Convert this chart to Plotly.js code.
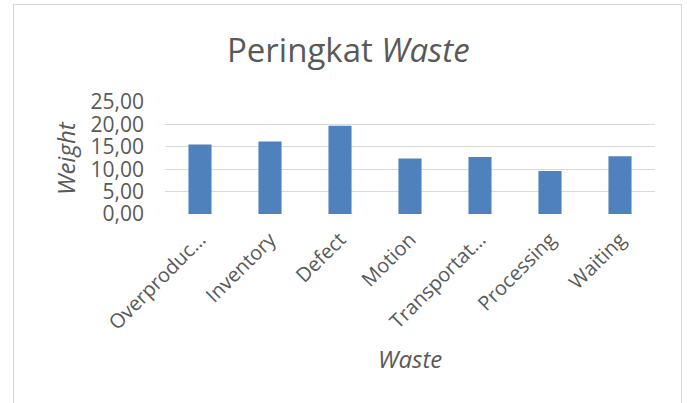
<!DOCTYPE html>
<html>
<head>
<meta charset="utf-8">
<script src="https://cdn.plot.ly/plotly-3.0.1.min.js"></script>
<style>
html,body{margin:0;padding:0;background:#fff;overflow:hidden;}
#frame{position:absolute;left:13px;top:4px;width:669px;height:420px;border:1px solid #d9d9d9;box-sizing:border-box;}
#chart{position:absolute;left:0;top:0;width:687px;height:403px;}
</style>
</head>
<body>
<div id="frame"></div>
<div id="chart"></div>
<script>
const categories = ["Overproduc\u2026", "Inventory", "Defect", "Motion", "Transportat\u2026", "Processing", "Waiting"];
const weights = [15.5, 16.2, 19.7, 12.4, 12.7, 9.6, 12.9];
const yTickValues = [0, 5, 10, 15, 20, 25];
const yTickLabels = ["0,00", "5,00", "10,00", "15,00", "20,00", "25,00"];

const textColor = "#595959";
const fontFam = "'Open Sans', 'Noto Sans', sans-serif";

const trace = {
  type: "bar",
  x: categories,
  y: weights,
  marker: {color: "#4f81bd"},
  hoverinfo: "x+y"
};

const layout = {
  width: 687,
  height: 403,
  paper_bgcolor: "rgba(0,0,0,0)",
  plot_bgcolor: "rgba(0,0,0,0)",
  margin: {l: 165, r: 32, t: 102, b: 189},
  bargap: 0.67,
  showlegend: false,
  font: {family: fontFam, color: textColor, size: 20},
  title: {
    text: "Peringkat <i>Waste</i>",
    font: {family: fontFam, size: 33, color: textColor},
    xref: "container", x: 0.507, xanchor: "center",
    yref: "container", y: 0.875, yanchor: "middle"
  },
  xaxis: {
    type: "category",
    tickangle: -45,
    tickfont: {size: 20, color: textColor},
    showgrid: false,
    showline: false,
    ticks: "",
    ticklabelstandoff: 9
  },
  yaxis: {
    range: [0, 25],
    tickvals: yTickValues,
    ticktext: yTickLabels,
    tickfont: {size: 21, color: textColor},
    showgrid: true,
    gridcolor: "#d9d9d9",
    gridwidth: 1,
    zeroline: false,
    showline: false,
    ticks: "",
    ticklabelstandoff: 20
  },
  annotations: [
    {
      text: "<i>Weight</i>", textangle: -90, showarrow: false,
      xref: "paper", yref: "paper", x: -0.204, y: 0.5,
      xanchor: "center", yanchor: "middle",
      font: {size: 24, color: textColor}
    },
    {
      text: "<i>Waste</i>", showarrow: false,
      xref: "paper", yref: "paper", x: 0.5, y: -1.286,
      xanchor: "center", yanchor: "middle",
      font: {size: 24, color: textColor}
    }
  ]
};

Plotly.newPlot("chart", [trace], layout, {displayModeBar: false, staticPlot: true});
</script>
</body>
</html>
